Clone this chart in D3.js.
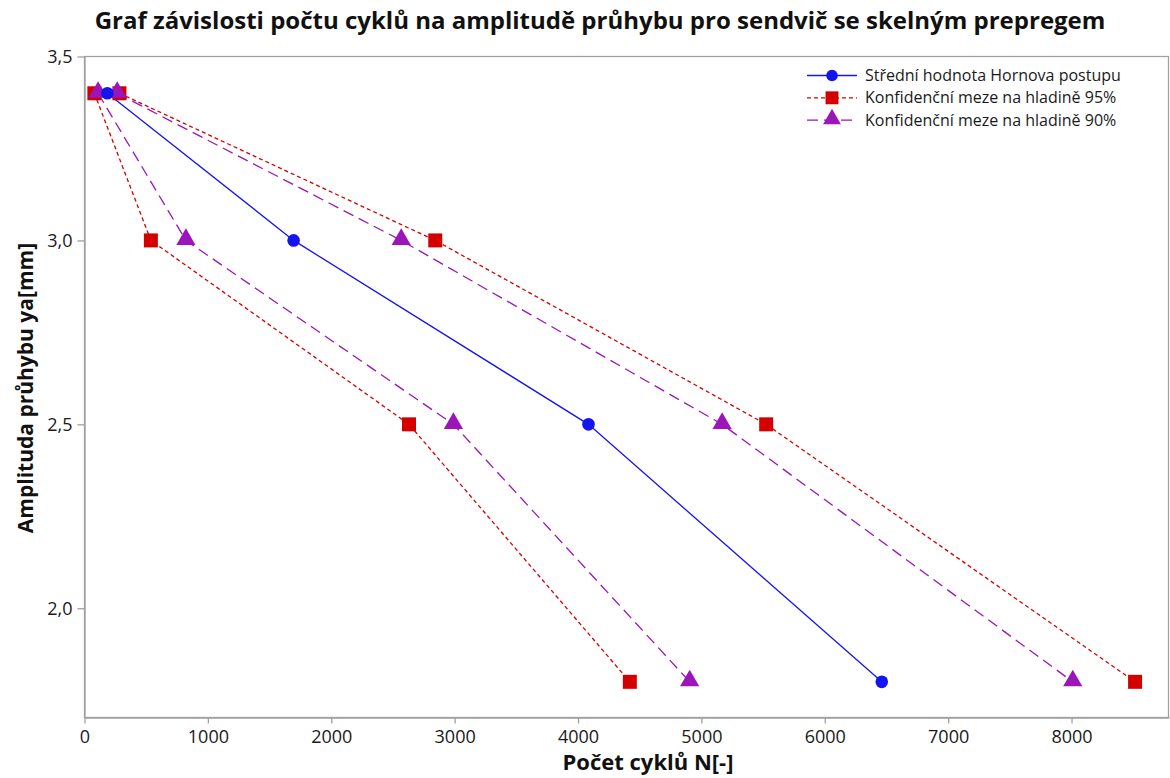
<!DOCTYPE html>
<html>
<head>
<meta charset="utf-8">
<script src="https://cdn.jsdelivr.net/npm/d3@7"></script>
<style>
  html, body { margin: 0; padding: 0; background: #fff; }
  svg { display: block; font-family: "Open Sans", "Noto Sans", sans-serif; }
</style>
</head>
<body>
<svg id="chart" width="1170" height="778"></svg>
<script>
// Amplitude levels (mm)
const amplitudes = [3.4, 3.0, 2.5, 1.8];

// Number of cycles N for each amplitude level
const meanHorn   = [185, 1695, 4085, 6462];   // mean value, Horn's procedure
const lower95    = [80, 538, 2630, 4420];
const upper95    = [283, 2843, 5525, 8515];
const lower90    = [110, 822, 2990, 4905];
const upper90    = [265, 2567, 5168, 8010];

const xTicks = [0, 1000, 2000, 3000, 4000, 5000, 6000, 7000, 8000];
const yTicks = [2.0, 2.5, 3.0, 3.5];

const titleText  = "Graf závislosti počtu cyklů na amplitudě průhybu pro sendvič se skelným prepregem";
const xLabelText = "Počet cyklů N[-]";
const yLabelText = "Amplituda průhybu ya[mm]";
const legendLabels = [
  "Střední hodnota Hornova postupu",
  "Konfidenční meze na hladině 95%",
  "Konfidenční meze na hladině 90%"
];

const svg = d3.select("#chart");
const margin = { left: 84.5, top: 56.5, right: 1169, bottom: 717.5 };

const x = d3.scaleLinear().domain([0, 8790]).range([margin.left, margin.right]);
const y = d3.scaleLinear().domain([1.703, 3.5]).range([margin.bottom, margin.top]);

const frameColor = "#a0a0a0";
const textColor = "#1a1a1a";

// plot frame
svg.append("rect")
  .attr("x", margin.left).attr("y", margin.top)
  .attr("width", margin.right - margin.left - 0.5)
  .attr("height", margin.bottom - margin.top)
  .attr("fill", "none").attr("stroke", frameColor).attr("stroke-width", 1.3);

// axes
const fmtComma = d => d3.format(".1f")(d).replace(".", ",");
const xAxis = svg.append("g")
  .attr("transform", `translate(0,${margin.bottom})`)
  .call(d3.axisBottom(x).tickValues(xTicks).tickSize(6).tickSizeOuter(0).tickFormat(d3.format("d")));
const yAxis = svg.append("g")
  .attr("transform", `translate(${margin.left},0)`)
  .call(d3.axisLeft(y).tickValues(yTicks).tickSize(7).tickSizeOuter(0).tickFormat(fmtComma));

[xAxis, yAxis].forEach(g => {
  g.select(".domain").attr("stroke", frameColor).attr("stroke-width", 1.3);
  g.selectAll(".tick line").attr("stroke", frameColor).attr("stroke-width", 1.3);
  g.selectAll(".tick text").attr("fill", textColor)
    .style("font-size", "18px").style("font-family", "'Open Sans', sans-serif");
});
xAxis.selectAll(".tick text").attr("dy", "0.95em").attr("y", 8);
yAxis.selectAll(".tick text").attr("x", -12);

// series definitions
const series = [
  { name: "lower95", vals: lower95, color: "#d40000", dash: "4,3", width: 1.3, marker: "square" },
  { name: "upper95", vals: upper95, color: "#d40000", dash: "4,3", width: 1.3, marker: "square" },
  { name: "lower90", vals: lower90, color: "#9a16b8", dash: "11,6", width: 1.3, marker: "triangle" },
  { name: "upper90", vals: upper90, color: "#9a16b8", dash: "11,6", width: 1.3, marker: "triangle" },
  { name: "mean",    vals: meanHorn, color: "#1414f0", dash: null, width: 1.3, marker: "circle" }
];

const line = d3.line().x(d => x(d.n)).y(d => y(d.a));

const symbolFor = m => m === "square" ? d3.symbolSquare : (m === "triangle" ? d3.symbolTriangle : d3.symbolCircle);
const sizeFor = m => m === "square" ? 196 : (m === "triangle" ? 160 : 125);

series.forEach(s => {
  const pts = s.vals.map((n, i) => ({ n, a: amplitudes[i] }));
  svg.append("path")
    .datum(pts)
    .attr("d", line)
    .attr("fill", "none")
    .attr("stroke", s.color)
    .attr("stroke-width", s.width)
    .attr("stroke-dasharray", s.dash);
});

series.forEach(s => {
  const pts = s.vals.map((n, i) => ({ n, a: amplitudes[i] }));
  svg.selectAll(null)
    .data(pts)
    .enter().append("path")
    .attr("transform", d => `translate(${x(d.n)},${y(d.a) + (s.marker === "triangle" ? -1 : 0)})`)
    .attr("d", d3.symbol().type(symbolFor(s.marker)).size(sizeFor(s.marker)))
    .attr("fill", s.color);
});

// legend
const legendItems = [
  { label: legendLabels[0], color: "#1414f0", dash: null, marker: "circle" },
  { label: legendLabels[1], color: "#d40000", dash: "4,3", marker: "square" },
  { label: legendLabels[2], color: "#9a16b8", dash: "11,6", marker: "triangle" }
];
const lg = svg.append("g");
legendItems.forEach((it, i) => {
  const ly = 75.5 + i * 22.3;
  lg.append("line")
    .attr("x1", 807).attr("x2", 857).attr("y1", ly).attr("y2", ly)
    .attr("stroke", it.color).attr("stroke-width", 1.3)
    .attr("stroke-dasharray", it.dash);
  lg.append("path")
    .attr("transform", `translate(832,${ly + (it.marker === "triangle" ? -1 : 0)})`)
    .attr("d", d3.symbol().type(symbolFor(it.marker)).size(sizeFor(it.marker) * 0.85))
    .attr("fill", it.color);
  lg.append("text")
    .attr("x", 865).attr("y", ly).attr("dy", "0.35em")
    .attr("fill", textColor)
    .style("font-size", "16px")
    .text(it.label);
});

// title
svg.append("text")
  .attr("x", 600).attr("y", 29)
  .attr("text-anchor", "middle")
  .attr("fill", "#111")
  .style("font-size", "24px").style("font-weight", "bold")
  .text(titleText);

// axis titles
svg.append("text")
  .attr("x", 648).attr("y", 770)
  .attr("text-anchor", "middle")
  .attr("fill", "#111")
  .style("font-size", "22px").style("font-weight", "bold")
  .text(xLabelText);

svg.append("text")
  .attr("transform", `translate(33,388) rotate(-90)`)
  .attr("text-anchor", "middle")
  .attr("fill", "#111")
  .style("font-size", "21px").style("font-weight", "bold")
  .text(yLabelText);
</script>
</body>
</html>
